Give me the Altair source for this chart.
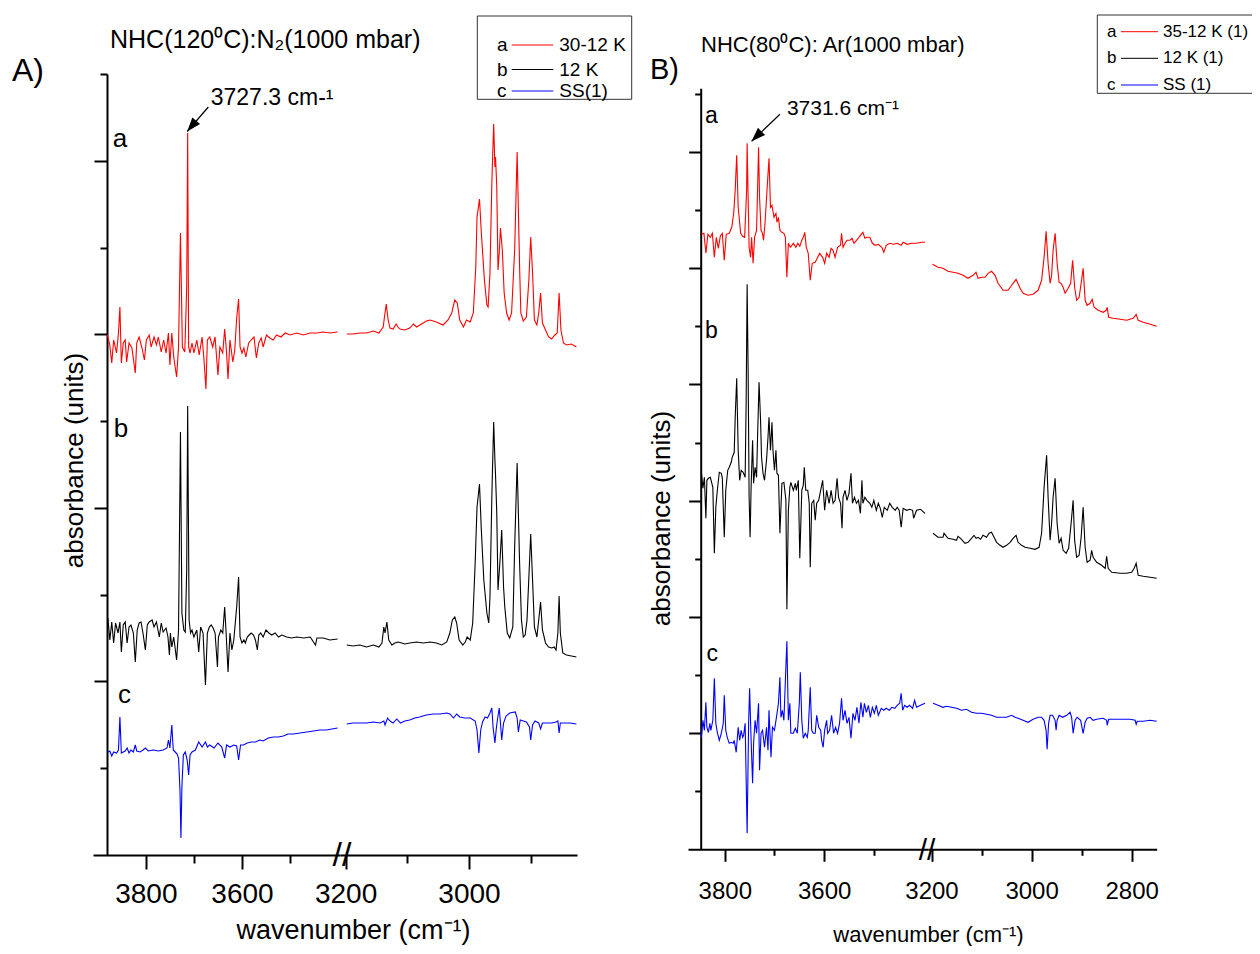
import altair as alt
import pandas as pd

FONT = "Liberation Sans"

# ---------------- data ----------------
# (wavenumber in cm-1, absorbance in arbitrary units incl. stacking offset)
# Panel A  -  NHC(120 C):N2
A_a_left = [(3880,520),(3875,510),(3871,492),(3867,515),(3861,502),(3857,522),(3854,548),(3851,492),(3847,512),(3843,515),(3840,493),(3835,512),(3829,507),(3822,482),(3819,512),(3814,518),(3808,507),(3803,495),(3799,515),(3793,520),(3789,508),(3783,518),(3778,510),(3774,518),(3768,503),(3763,515),(3758,502),(3753,522),(3750,490),(3746,522),(3742,498),(3736,478),(3732,508),(3728,622),(3724,508),(3719,503),(3715,568),(3713,722),(3711,508),(3708,502),(3704,512),(3700,502),(3694,515),(3689,500),(3683,518),(3679,495),(3675,466),(3672,515),(3667,518),(3661,508),(3656,518),(3650,480),(3646,508),(3640,502),(3636,526),(3632,502),(3629,476),(3625,515),(3619,493),(3615,505),(3611,537),(3607,556),(3604,508),(3600,502),(3596,507),(3592,498),(3586,512),(3581,515),(3575,518),(3570,497),(3565,512),(3560,517),(3556,508),(3549,520),(3542,517),(3535,515),(3528,520),(3519,518),(3510,522),(3500,520),(3486,522),(3472,520),(3458,522),(3444,522),(3431,523),(3417,522),(3401,523)]
A_a_right = [(3198,521),(3188,521),(3177,522),(3166,522),(3155,524),(3146,522),(3139,528),(3137,538),(3134,551),(3131,535),(3128,527),(3123,526),(3118,531),(3115,528),(3112,526),(3104,525),(3096,527),(3090,531),(3085,528),(3077,531),(3069,534),(3063,535),(3053,533),(3042,530),(3034,535),(3028,542),(3023,555),(3019,552),(3015,535),(3009,528),(3004,535),(2998,533),(2993,542),(2989,588),(2987,638),(2983,656),(2980,622),(2975,575),(2971,550),(2969,548),(2966,582),(2963,672),(2960,731),(2958,688),(2957,698),(2955,668),(2953,585),(2951,602),(2949,627),(2946,605),(2943,562),(2939,542),(2935,535),(2931,542),(2926,605),(2922,703),(2918,588),(2916,542),(2912,534),(2907,538),(2903,575),(2900,618),(2897,582),(2894,535),(2890,530),(2887,542),(2884,562),(2881,532),(2876,525),(2871,518),(2866,516),(2861,520),(2857,522),(2854,562),(2851,525),(2847,512),(2842,510),(2834,511),(2826,508)]
A_b_left = [(3879,237),(3875,215),(3871,233),(3867,212),(3863,232),(3858,222),(3854,233),(3851,203),(3847,230),(3843,233),(3839,212),(3835,228),(3831,230),(3826,222),(3822,193),(3818,225),(3814,232),(3810,233),(3806,222),(3801,205),(3797,230),(3793,233),(3787,235),(3783,228),(3778,233),(3772,218),(3768,232),(3764,223),(3758,227),(3754,218),(3751,200),(3749,222),(3746,208),(3742,218),(3736,195),(3732,225),(3728,423),(3725,242),(3721,225),(3718,223),(3715,285),(3713,449),(3710,235),(3707,222),(3704,225),(3700,218),(3694,225),(3690,203),(3686,228),(3681,222),(3676,170),(3672,222),(3668,228),(3664,230),(3660,227),(3656,222),(3651,188),(3649,218),(3644,225),(3640,222),(3636,248),(3633,222),(3629,183),(3625,222),(3621,205),(3617,215),(3611,248),(3607,278),(3604,218),(3600,212),(3596,215),(3593,212),(3589,218),(3585,220),(3581,222),(3576,220),(3572,215),(3568,205),(3565,220),(3561,222),(3556,218),(3550,225),(3544,222),(3538,220),(3531,222),(3524,218),(3517,220),(3507,218),(3497,217),(3486,218),(3472,217),(3458,218),(3447,210),(3444,217),(3431,217),(3417,215),(3401,216)]
A_b_right = [(3198,210),(3188,209),(3177,210),(3166,208),(3155,210),(3146,208),(3141,212),(3138,228),(3136,222),(3133,233),(3130,215),(3125,210),(3120,212),(3115,213),(3109,212),(3104,211),(3096,212),(3085,213),(3074,212),(3063,213),(3053,212),(3044,210),(3036,213),(3031,222),(3027,235),(3023,238),(3020,232),(3016,215),(3010,210),(3006,213),(3003,218),(2998,215),(2994,232),(2990,292),(2987,348),(2983,371),(2980,325),(2976,275),(2971,242),(2968,232),(2966,258),(2963,358),(2960,433),(2958,395),(2957,380),(2955,342),(2953,265),(2950,292),(2947,325),(2944,268),(2942,248),(2938,222),(2934,217),(2929,228),(2926,308),(2922,392),(2918,292),(2915,235),(2912,218),(2909,220),(2906,235),(2902,292),(2900,321),(2897,275),(2894,228),(2890,218),(2887,235),(2884,253),(2881,225),(2876,212),(2871,208),(2866,207),(2862,208),(2859,205),(2856,222),(2854,259),(2852,222),(2848,202),(2842,200),(2834,199),(2826,198)]
A_c_left = [(3879,103),(3875,104),(3871,99),(3867,103),(3861,102),(3857,105),(3854,138),(3851,102),(3847,103),(3843,104),(3839,107),(3835,102),(3831,105),(3826,103),(3822,110),(3819,104),(3812,103),(3806,105),(3801,107),(3795,104),(3785,105),(3774,104),(3764,105),(3756,107),(3753,115),(3750,107),(3746,130),(3743,105),(3739,103),(3735,101),(3732,97),(3729,65),(3727,17),(3725,68),(3722,100),(3718,103),(3714,95),(3711,80),(3708,100),(3704,103),(3697,105),(3690,113),(3683,108),(3676,113),(3672,108),(3667,110),(3658,107),(3650,112),(3642,108),(3636,97),(3632,110),(3625,108),(3617,110),(3611,109),(3607,95),(3603,110),(3597,110),(3589,112),(3581,113),(3572,113),(3563,115),(3556,114),(3545,117),(3535,118),(3524,118),(3514,119),(3504,121),(3493,121),(3479,122),(3465,123),(3451,124),(3438,125),(3424,125),(3413,126),(3401,127)]
A_c_right = [(3198,131),(3188,132),(3177,132),(3166,132),(3155,133),(3144,132),(3138,134),(3136,130),(3132,137),(3128,134),(3123,132),(3117,136),(3111,132),(3104,134),(3096,135),(3088,137),(3080,138),(3069,140),(3058,141),(3047,141),(3036,142),(3031,141),(3025,137),(3020,141),(3015,138),(3007,137),(2998,137),(2990,134),(2987,125),(2984,102),(2981,125),(2978,133),(2974,138),(2970,137),(2966,142),(2963,147),(2961,128),(2958,112),(2956,125),(2954,135),(2951,147),(2949,132),(2947,115),(2944,132),(2940,139),(2934,142),(2925,143),(2922,137),(2920,123),(2917,135),(2912,134),(2907,133),(2902,128),(2900,115),(2897,130),(2893,134),(2887,132),(2884,126),(2881,132),(2874,132),(2866,132),(2859,133),(2856,134),(2854,122),(2852,132),(2845,132),(2836,132),(2826,131)]

# Panel B  -  NHC(80 C):Ar
B_a_left = [(3847,615),(3842,616),(3838,596),(3834,615),(3829,612),(3825,616),(3821,592),(3817,612),(3813,601),(3809,613),(3805,616),(3801,589),(3797,615),(3791,616),(3786,622),(3782,636),(3779,659),(3776,694),(3773,642),(3768,616),(3764,613),(3760,612),(3756,659),(3755,706),(3753,652),(3751,602),(3748,592),(3746,612),(3743,586),(3740,612),(3736,619),(3734,659),(3732,702),(3730,652),(3727,619),(3724,616),(3722,609),(3719,626),(3715,659),(3711,691),(3708,642),(3705,644),(3701,632),(3697,636),(3695,627),(3692,632),(3689,619),(3685,617),(3681,616),(3678,612),(3675,572),(3672,606),(3668,602),(3662,606),(3657,602),(3653,606),(3649,603),(3645,609),(3642,612),(3639,617),(3636,602),(3632,596),(3628,569),(3624,586),(3618,587),(3613,592),(3609,596),(3603,592),(3599,586),(3595,596),(3590,592),(3586,601),(3582,599),(3578,592),(3573,602),(3567,604),(3565,616),(3562,602),(3558,606),(3554,609),(3548,609),(3544,611),(3540,606),(3535,609),(3530,612),(3524,616),(3522,617),(3518,611),(3514,612),(3508,612),(3503,606),(3497,604),(3491,605),(3484,602),(3480,597),(3475,604),(3468,606),(3461,605),(3453,606),(3445,604),(3441,607),(3433,605),(3424,606),(3414,606),(3404,607),(3397,607)]
B_a_right = [(3198,585),(3187,582),(3177,581),(3167,578),(3157,577),(3147,576),(3137,574),(3127,571),(3117,574),(3111,577),(3107,571),(3100,572),(3093,572),(3087,576),(3080,578),(3073,574),(3067,566),(3057,559),(3047,559),(3037,566),(3031,570),(3023,561),(3017,556),(3007,554),(2997,555),(2987,559),(2980,569),(2975,592),(2971,618),(2967,586),(2963,566),(2960,574),(2957,599),(2953,616),(2949,586),(2945,567),(2941,566),(2937,562),(2933,556),(2927,561),(2922,566),(2918,589),(2914,562),(2910,549),(2905,552),(2901,566),(2897,581),(2893,549),(2889,544),(2883,546),(2879,550),(2875,542),(2867,539),(2857,537),(2851,539),(2849,542),(2846,532),(2837,531),(2823,530),(2810,529),(2797,531),(2791,535),(2787,529),(2777,527),(2763,525),(2750,523)]
B_b_left = [(3847,377),(3844,361),(3841,372),(3838,331),(3836,369),(3833,371),(3829,372),(3826,366),(3824,362),(3821,296),(3818,342),(3815,359),(3811,377),(3807,376),(3805,372),(3801,312),(3798,359),(3794,379),(3791,382),(3787,387),(3785,392),(3781,397),(3779,432),(3776,471),(3773,399),(3770,369),(3767,379),(3763,377),(3759,372),(3757,446),(3755,565),(3753,479),(3751,352),(3749,312),(3747,362),(3744,409),(3742,366),(3739,382),(3736,372),(3734,412),(3731,467),(3728,429),(3726,392),(3723,376),(3720,369),(3716,389),(3713,412),(3711,432),(3708,399),(3705,427),(3703,399),(3700,379),(3697,399),(3695,376),(3692,374),(3689,316),(3685,366),(3681,367),(3677,349),(3675,240),(3672,339),(3669,362),(3667,367),(3662,359),(3658,366),(3656,359),(3652,369),(3649,291),(3645,359),(3642,364),(3640,382),(3637,359),(3633,359),(3630,346),(3628,282),(3625,346),(3621,349),(3618,329),(3615,346),(3611,349),(3607,359),(3603,369),(3599,339),(3595,359),(3590,346),(3586,359),(3582,346),(3578,349),(3574,371),(3571,352),(3567,346),(3564,321),(3562,352),(3558,359),(3554,349),(3550,356),(3546,376),(3543,346),(3539,352),(3535,346),(3531,349),(3527,336),(3524,369),(3522,346),(3518,352),(3514,349),(3508,346),(3504,342),(3500,349),(3495,339),(3491,346),(3487,341),(3483,332),(3479,342),(3473,339),(3468,346),(3463,342),(3457,339),(3453,342),(3449,339),(3445,322),(3441,341),(3434,339),(3428,340),(3422,339),(3420,331),(3414,339),(3406,340),(3397,336)]
B_b_right = [(3197,316),(3187,312),(3177,312),(3175,316),(3167,311),(3157,310),(3150,309),(3147,313),(3142,311),(3133,306),(3127,307),(3120,311),(3115,314),(3111,311),(3107,312),(3102,310),(3097,314),(3090,312),(3085,316),(3080,317),(3075,312),(3070,307),(3063,304),(3057,302),(3050,304),(3043,307),(3037,311),(3031,314),(3027,307),(3020,304),(3013,302),(3003,301),(2993,300),(2985,302),(2980,316),(2975,362),(2970,394),(2967,352),(2963,309),(2960,326),(2957,352),(2953,371),(2949,326),(2945,306),(2941,311),(2937,299),(2931,296),(2926,301),(2921,326),(2917,349),(2914,309),(2910,292),(2905,294),(2901,312),(2897,342),(2893,302),(2889,287),(2883,289),(2880,299),(2877,292),(2870,287),(2860,284),(2853,281),(2850,293),(2847,281),(2840,277),(2823,276),(2810,276),(2800,277),(2795,281),(2791,286),(2787,274),(2777,273),(2763,272),(2750,271)]
B_c_left = [(3847,112),(3844,129),(3841,119),(3838,147),(3836,122),(3833,117),(3830,126),(3828,119),(3824,129),(3821,171),(3818,126),(3815,117),(3811,109),(3807,116),(3803,126),(3801,154),(3798,119),(3795,112),(3791,106),(3787,107),(3783,106),(3781,109),(3777,97),(3773,122),(3770,109),(3767,119),(3764,112),(3762,114),(3759,126),(3755,16),(3752,126),(3750,161),(3747,109),(3744,66),(3742,106),(3739,129),(3736,116),(3732,146),(3730,79),(3727,116),(3724,119),(3720,102),(3716,122),(3713,99),(3711,139),(3707,92),(3704,122),(3700,119),(3696,132),(3692,146),(3689,172),(3687,132),(3684,139),(3681,129),(3678,169),(3675,208),(3672,129),(3669,146),(3667,116),(3662,116),(3658,121),(3654,116),(3650,146),(3648,177),(3645,129),(3642,111),(3638,116),(3634,112),(3632,119),(3628,162),(3625,119),(3622,116),(3618,116),(3615,134),(3611,122),(3607,119),(3605,109),(3602,102),(3599,119),(3595,129),(3593,116),(3589,119),(3585,134),(3581,116),(3577,122),(3573,116),(3569,126),(3565,151),(3562,129),(3558,139),(3554,126),(3550,132),(3546,111),(3542,136),(3538,129),(3534,142),(3530,126),(3526,147),(3522,132),(3519,146),(3515,137),(3511,144),(3507,132),(3503,142),(3499,136),(3495,144),(3491,134),(3485,141),(3480,139),(3475,141),(3469,139),(3464,142),(3458,141),(3453,144),(3448,146),(3445,156),(3442,139),(3438,144),(3433,142),(3428,144),(3422,141),(3418,149),(3414,142),(3406,144),(3397,146)]
B_c_right = [(3197,146),(3187,144),(3177,142),(3170,143),(3160,142),(3150,141),(3140,139),(3130,140),(3120,137),(3110,136),(3100,136),(3090,135),(3080,134),(3070,132),(3060,132),(3050,132),(3040,134),(3033,132),(3027,131),(3017,129),(3007,127),(2997,130),(2987,132),(2980,132),(2975,129),(2971,119),(2969,100),(2966,126),(2963,134),(2958,134),(2953,129),(2951,119),(2949,129),(2945,134),(2938,132),(2930,134),(2923,137),(2920,132),(2917,116),(2913,129),(2909,132),(2902,129),(2897,116),(2893,127),(2889,131),(2883,132),(2877,129),(2870,130),(2857,131),(2850,129),(2849,124),(2846,130),(2830,130),(2817,130),(2803,130),(2793,129),(2791,125),(2789,128),(2777,128),(2763,129),(2750,128)]

SERIES = ["a", "b", "c"]
COLORS = ["#ff0000", "#000000", "#0000ff"]
A_LEGEND = ["30-12 K", "12 K", "SS(1)"]
B_LEGEND = ["35-12 K (1)", "12 K (1)", "SS (1)"]
A_TITLE = "NHC(120\u2070C):N\u2082(1000 mbar)"
B_TITLE = "NHC(80\u2070C): Ar(1000 mbar)"
A_PEAK = "3727.3 cm-\u00b9"
B_PEAK = "3731.6 cm\u207b\u00b9"
X_TITLE = "wavenumber (cm\u207b\u00b9)"
Y_TITLE = "absorbance (units)"

A_XT_LEFT = [3800, 3700, 3600, 3500]
A_XT_RIGHT = [3200, 3100, 3000, 2900]
B_XT_LEFT = [3800, 3700, 3600, 3500]
B_XT_RIGHT = [3200, 3100, 3000, 2900, 2800]
A_YT = [86.75, 173.5, 260.25, 347, 433.75, 520.5, 607.25, 694, 780.75]
A_YT_MAJOR = [173.5, 347, 520.5, 694]
B_YT = [58.1, 116.2, 174.3, 232.4, 290.5, 348.6, 406.7, 464.8, 522.9, 581, 639.1, 697.2, 755.3]
B_YT_MAJOR = [116.2, 232.4, 348.6, 464.8, 581, 697.2]

# ---------------- layout ----------------
W, H = 1244, 938

A_y = alt.Scale(domain=[0, 781], range=[847, 66], nice=False, zero=False)
A_xl = alt.Scale(domain=[3910, 3396], range=[85, 332], nice=False, zero=False)
A_xr = alt.Scale(domain=[3209, 2825], range=[332, 569], nice=False, zero=False)
B_y = alt.Scale(domain=[0, 761], range=[841.3, 80.3], nice=False, zero=False)
B_xl = alt.Scale(domain=[3874, 3391], range=[680, 920], nice=False, zero=False)
B_xr = alt.Scale(domain=[3207, 2750], range=[920, 1148.7], nice=False, zero=False)

color = alt.Color("series:N", scale=alt.Scale(domain=SERIES, range=COLORS), legend=None)


def seg(traces):
    rows = []
    for s, pts in zip(SERIES, traces):
        rows += [{"wn": w, "ab": a, "series": s} for w, a in pts]
    return pd.DataFrame(rows)


def x_axis(values, fs, major, minor, pad, offset, title=None, tx=0, ty=0, tfs=26):
    d = dict(values=values, orient="bottom", offset=offset, grid=False, format="d",
             labelExpr="datum.value % 200 === 0 ? datum.label : ''",
             labelFont=FONT, labelFontSize=fs, labelColor="black", labelPadding=pad,
             labelFlush=False, labelOverlap=False, labelBound=False,
             tickColor="black", tickWidth=2,
             tickSize={"condition": {"test": "datum.value % 200 === 0", "value": major}, "value": minor},
             domainColor="black", domainWidth=2, title=title)
    if title:
        d.update(titleX=tx, titleY=ty, titleFont=FONT, titleFontSize=tfs,
                 titleFontWeight="normal", titleColor="black", titleAlign="center",
                 titleBaseline="alphabetic")
    return alt.Axis(**d)


def y_axis(values, major_vals, major, minor, offset, tx, ty, tfs):
    test = "indexof([" + ",".join(str(v) for v in major_vals) + "], datum.value) >= 0"
    return alt.Axis(values=values, orient="left", offset=offset, grid=False, labels=False,
                    tickColor="black", tickWidth=2,
                    tickSize={"condition": {"test": test, "value": major}, "value": minor},
                    domainColor="black", domainWidth=2,
                    title=Y_TITLE, titleX=tx, titleY=ty, titleAngle=270, titleFont=FONT,
                    titleFontSize=tfs, titleFontWeight="normal", titleColor="black",
                    titleAlign="center", titleBaseline="alphabetic")


def lines(traces, xs, ys, xaxis, yaxis=None):
    return alt.Chart(seg(traces)).mark_line(strokeWidth=1.1).encode(
        x=alt.X("wn:Q", scale=xs, axis=xaxis),
        y=alt.Y("ab:Q", scale=ys, axis=yaxis),
        color=color,
    )


def data_text(rows, xs, ys, size, align="left"):
    return alt.Chart(pd.DataFrame(rows)).mark_text(
        align=align, baseline="alphabetic", font=FONT, fontSize=size, color="black"
    ).encode(x=alt.X("wn:Q", scale=xs, axis=None), y=alt.Y("ab:Q", scale=ys, axis=None), text="t:N")


ARROW = "M0,0L-0.36,1L0.36,1Z"


def arrow(p0, p1, xs, ys, angle):
    shaft = alt.Chart(pd.DataFrame({"wn": [p0[0], p1[0]], "ab": [p0[1], p1[1]]})).mark_line(
        color="black", strokeWidth=1.2).encode(
        x=alt.X("wn:Q", scale=xs, axis=None), y=alt.Y("ab:Q", scale=ys, axis=None))
    head = alt.Chart(pd.DataFrame({"wn": [p1[0]], "ab": [p1[1]]})).mark_point(
        shape=ARROW, filled=True, size=784, angle=angle, color="black", opacity=1, strokeWidth=0).encode(
        x=alt.X("wn:Q", scale=xs, axis=None), y=alt.Y("ab:Q", scale=ys, axis=None))
    return [shaft, head]


def label(text, x, y, size, align="left", baseline="alphabetic", angle=0):
    return alt.Chart(pd.DataFrame({"t": [text]})).mark_text(
        align=align, baseline=baseline, font=FONT, fontSize=size, color="black", angle=angle
    ).encode(x=alt.value(x), y=alt.value(y), text="t:N")


def legend(box, letter_x, line_x, text_x, rows_y, labels, size):
    out = [alt.Chart(pd.DataFrame({"k": [0]})).mark_rect(
        fillOpacity=0, stroke="#333333", strokeWidth=1).encode(
        x=alt.value(box[0]), x2=alt.value(box[1]), y=alt.value(box[2]), y2=alt.value(box[3]))]
    for s, c, lab, yy in zip(SERIES, COLORS, labels, rows_y):
        out.append(label(s, letter_x, yy, size, baseline="middle"))
        out.append(alt.Chart(pd.DataFrame({"k": [0]})).mark_rule(strokeWidth=1, color=c).encode(
            x=alt.value(line_x[0]), x2=alt.value(line_x[1]), y=alt.value(yy)))
        out.append(label(lab, text_x, yy, size, baseline="middle"))
    return out


layers = []
# Panel A spectra
layers.append(lines([A_a_left, A_b_left, A_c_left], A_xl, A_y,
                    x_axis(A_XT_LEFT, 28, 14, 8, 11, -91, X_TITLE, 345, 83, 27),
                    y_axis(A_YT, A_YT_MAJOR, 13, 7, -99, -25, 452, 26)))
layers.append(lines([A_a_right, A_b_right, A_c_right], A_xr, A_y,
                    x_axis(A_XT_RIGHT, 28, 14, 8, 11, -91)))
# Panel B spectra
layers.append(lines([B_a_left, B_b_left, B_c_left], B_xl, B_y,
                    x_axis(B_XT_LEFT, 24, 12, 6, 18, -96.7, X_TITLE, 920, 92, 22),
                    y_axis(B_YT, B_YT_MAJOR, 12, 6, -692.7, -31, 510, 26)))
layers.append(lines([B_a_right, B_b_right, B_c_right], B_xr, B_y,
                    x_axis(B_XT_RIGHT, 24, 12, 6, 18, -96.7)))

# trace letters
layers.append(data_text({"wn": [3869, 3867, 3858], "ab": [708, 418, 152], "t": SERIES}, A_xl, A_y, 26))
layers.append(data_text({"wn": [3840, 3840, 3837], "ab": [726, 511, 188], "t": SERIES}, B_xl, B_y, 23))

# peak annotations
layers += arrow((3670, 748), (3714, 723.5), A_xl, A_y, 220)
layers.append(data_text({"wn": [3665], "ab": [750], "t": [A_PEAK]}, A_xl, A_y, 23))
layers += arrow((3689, 735), (3746, 708), B_xl, B_y, 225)
layers.append(data_text({"wn": [3675], "ab": [734], "t": [B_PEAK]}, B_xl, B_y, 21))

# axis break marks
layers.append(label("//", 334, 848, 34, align="center", baseline="middle"))
layers.append(label("//", 919, 842.5, 30, align="center", baseline="middle"))

# titles and panel letters
layers.append(label(A_TITLE, 102, 40, 25))
layers.append(label(B_TITLE, 693, 44, 22))
layers.append(label("A)", 4, 73, 32))
layers.append(label("B)", 642, 71, 29))

# legends
layers += legend((469.3, 623.7, 8, 91.3), 489, (503.7, 545.3), 551.3, [37, 61.5, 83], A_LEGEND, 19)
layers += legend((1089.3, 1262, 7, 85.3), 1099, (1113, 1150), 1155, [23.7, 50.3, 77], B_LEGEND, 17)

chart = alt.layer(*layers).resolve_scale(
    x="independent", y="independent"
).resolve_axis(
    x="independent", y="independent"
).properties(
    width=W, height=H, padding=0, autosize=alt.AutoSizeParams(type="none")
).configure_view(stroke=None)

chart.save("out.html", embed_options={"renderer": "svg", "actions": False})
